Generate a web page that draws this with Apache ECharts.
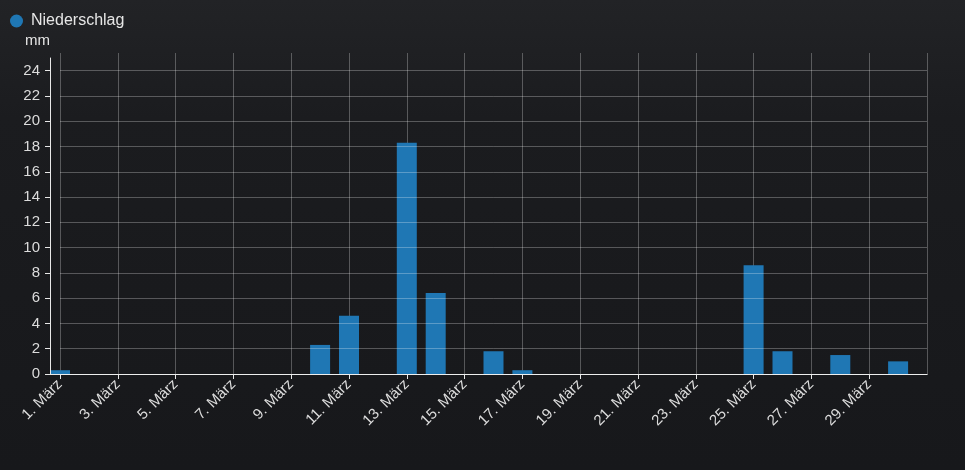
<!DOCTYPE html>
<html>
<head>
<meta charset="utf-8">
<script src="https://cdn.jsdelivr.net/npm/echarts@6/dist/echarts.min.js"></script>
<style>
html,body{margin:0;padding:0;background:#17181b;}
#chart{width:965px;height:470px;}
</style>
</head>
<body>
<div id="chart"></div>
<script>
const seriesName = 'Niederschlag';
const unitName = 'mm';
const monthName = 'März';
const days = [1,2,3,4,5,6,7,8,9,10,11,12,13,14,15,16,17,18,19,20,21,22,23,24,25,26,27,28,29,30];
const rain = [0.3,0,0,0,0,0,0,0,0,2.3,4.6,0,18.3,6.4,0,1.8,0.3,0,0,0,0,0,0,0,8.6,1.8,0,1.5,0,1.0];

const font = '"Liberation Sans", Arial, sans-serif';
const gridColor = 'rgba(255,255,255,0.27)';
const axisColor = '#e8e8e8';
const textColor = '#dcdcdc';

const chart = echarts.init(document.getElementById('chart'));
chart.setOption({
  backgroundColor: {
    type: 'linear', x: 0, y: 0, x2: 0, y2: 1,
    colorStops: [
      {offset: 0, color: '#222326'},
      {offset: 0.25, color: '#1b1c1f'},
      {offset: 1, color: '#17181b'}
    ]
  },
  textStyle: {fontFamily: font},
  animation: false,
  legend: {
    left: 5, top: 8,
    icon: 'circle', itemWidth: 13, itemHeight: 13, itemGap: 8,
    textStyle: {color: '#e6e6e6', fontSize: 16, fontFamily: font, padding: [0, 0, 0, 3]},
    data: [seriesName]
  },
  grid: [
    {left: 60, right: 38, top: 58, bottom: 96},
    {left: 60, right: 38, top: 53, bottom: 96},
    {left: 50, right: 38, top: 58, bottom: 96}
  ],
  xAxis: [
    {
      type: 'value', gridIndex: 0, min: 1, max: 31, interval: 2,
      axisLine: {show: true, lineStyle: {color: axisColor, width: 1}},
      axisTick: {show: true, length: 5, lineStyle: {color: axisColor}},
      axisLabel: {
        rotate: 45, margin: 8, color: textColor, fontSize: 15, fontFamily: font,
        showMaxLabel: false,
        formatter: v => v + '. ' + monthName
      },
      splitLine: {show: false}
    },
    {
      type: 'value', gridIndex: 1, min: 1, max: 31, interval: 2,
      axisLine: {show: false}, axisTick: {show: false}, axisLabel: {show: false},
      splitLine: {show: true, lineStyle: {color: gridColor, width: 1}}
    },
    {
      type: 'value', gridIndex: 2, min: 0, max: 1,
      axisLine: {show: true, lineStyle: {color: axisColor, width: 1}},
      axisTick: {show: false}, axisLabel: {show: false}, splitLine: {show: false}
    }
  ],
  yAxis: [
    {
      type: 'value', gridIndex: 0, min: 0, max: 25, interval: 2, offset: 10, z: 3,
      name: unitName, nameLocation: 'end', nameGap: 10,
      nameTextStyle: {color: '#e6e6e6', fontSize: 15, align: 'right', fontFamily: font},
      axisLine: {show: true, lineStyle: {color: axisColor, width: 1}},
      axisTick: {show: true, length: 5, lineStyle: {color: axisColor}},
      axisLabel: {color: textColor, fontSize: 15, margin: 10, showMaxLabel: false, fontFamily: font},
      splitLine: {show: true, showMaxLine: false, lineStyle: {color: gridColor, width: 1}}
    },
    {type: 'value', gridIndex: 1, show: false, min: 0, max: 1, splitLine: {show: false}},
    {type: 'value', gridIndex: 2, show: false, min: 0, max: 1, splitLine: {show: false}}
  ],
  series: [{
    name: seriesName,
    type: 'bar',
    xAxisIndex: 0, yAxisIndex: 0,
    barWidth: 20,
    clip: false,
    itemStyle: {color: '#1f77b4'},
    data: days.map((d, i) => [d, rain[i]])
  }]
});
</script>
</body>
</html>
